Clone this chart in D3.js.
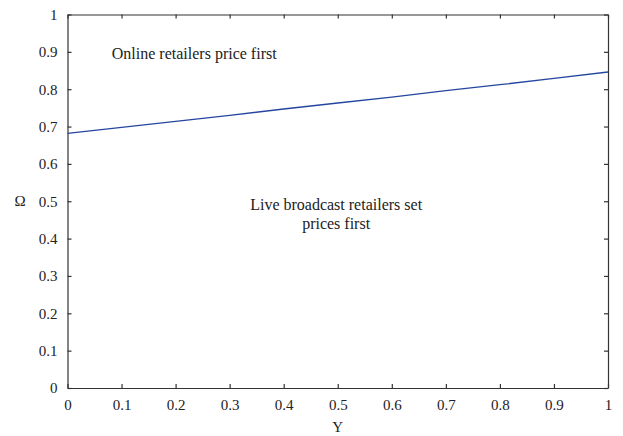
<!DOCTYPE html>
<html>
<head>
<meta charset="utf-8">
<script src="https://cdn.jsdelivr.net/npm/d3@7"></script>
<style>
  html, body { margin: 0; padding: 0; background: #fff; }
  svg { display: block; }
  text { font-family: "Liberation Serif", "Times New Roman", serif; fill: #222; }
</style>
</head>
<body>
<svg id="chart" width="623" height="436"></svg>
<script>
// Threshold curve of Omega against Y
const yValues = [0, 0.1, 0.2, 0.3, 0.4, 0.5, 0.6, 0.7, 0.8, 0.9, 1];
const omegaValues = [0.682, 0.698, 0.714, 0.730, 0.747, 0.763, 0.779, 0.796, 0.812, 0.829, 0.846];
const xTicks = [0, 0.1, 0.2, 0.3, 0.4, 0.5, 0.6, 0.7, 0.8, 0.9, 1];
const yTicks = [0, 0.1, 0.2, 0.3, 0.4, 0.5, 0.6, 0.7, 0.8, 0.9, 1];
const upperRegionLabel = ["Online retailers price first"];
const lowerRegionLabel = ["Live broadcast retailers set", "prices first"];

const margin = { left: 67.5, right: 15, top: 14.5, bottom: 48 };
const width = 623, height = 436;
const svg = d3.select("#chart");

const x = d3.scaleLinear().domain([0, 1]).range([margin.left, width - margin.right]);
const y = d3.scaleLinear().domain([0, 1]).range([height - margin.bottom, margin.top]);

const fmt = d => d === 0 ? "0" : d === 1 ? "1" : d3.format(".1f")(d);
const axisColor = "#333";

function styleAxis(g, showLabels) {
  g.select(".domain").attr("stroke", axisColor).attr("stroke-width", 1.2);
  g.selectAll(".tick line").attr("stroke", axisColor).attr("stroke-width", 1.2);
  g.selectAll(".tick text")
    .style("font-family", '"Liberation Serif", "Times New Roman", serif')
    .style("font-size", "15px")
    .attr("fill", "#222")
    .style("display", showLabels ? null : "none");
}

// Bottom axis with inward ticks
svg.append("g")
  .attr("transform", `translate(0,${y(0)})`)
  .call(d3.axisBottom(x).tickValues(xTicks).tickFormat(fmt).tickSizeInner(-4).tickSizeOuter(0).tickPadding(11))
  .call(g => styleAxis(g, true));

// Left axis with inward ticks
svg.append("g")
  .attr("transform", `translate(${x(0)},0)`)
  .call(d3.axisLeft(y).tickValues(yTicks).tickFormat(fmt).tickSizeInner(-4).tickSizeOuter(0).tickPadding(10))
  .call(g => styleAxis(g, true));

// Top and right frame with inward ticks
svg.append("g")
  .attr("transform", `translate(0,${y(1)})`)
  .call(d3.axisTop(x).tickValues(xTicks).tickSizeInner(-4).tickSizeOuter(0))
  .call(g => styleAxis(g, false));

svg.append("g")
  .attr("transform", `translate(${x(1)},0)`)
  .call(d3.axisRight(y).tickValues(yTicks).tickSizeInner(-4).tickSizeOuter(0))
  .call(g => styleAxis(g, false));

// Curve
const line = d3.line().x((d, i) => x(yValues[i])).y(d => y(d));
svg.append("path")
  .datum(omegaValues)
  .attr("fill", "none")
  .attr("stroke", "#2446a0")
  .attr("stroke-width", 1.3)
  .attr("d", line);

// Region labels
svg.append("text")
  .attr("x", x(0.082)).attr("y", 59)
  .style("font-size", "16px")
  .text(upperRegionLabel[0]);

svg.append("text")
  .attr("text-anchor", "middle")
  .attr("x", x(0.5)).attr("y", 210)
  .style("font-size", "16px")
  .selectAll("tspan")
  .data(lowerRegionLabel)
  .join("tspan")
  .attr("x", x(0.497))
  .attr("dy", (d, i) => i === 0 ? 0 : 19)
  .text(d => d);

// Axis titles
svg.append("text")
  .attr("text-anchor", "middle")
  .attr("x", x(0.5)).attr("y", 432)
  .style("font-size", "15px")
  .text("Y");

svg.append("text")
  .attr("text-anchor", "middle")
  .attr("x", 20).attr("y", y(0.5) + 5)
  .style("font-size", "15px")
  .text("Ω");
</script>
</body>
</html>
